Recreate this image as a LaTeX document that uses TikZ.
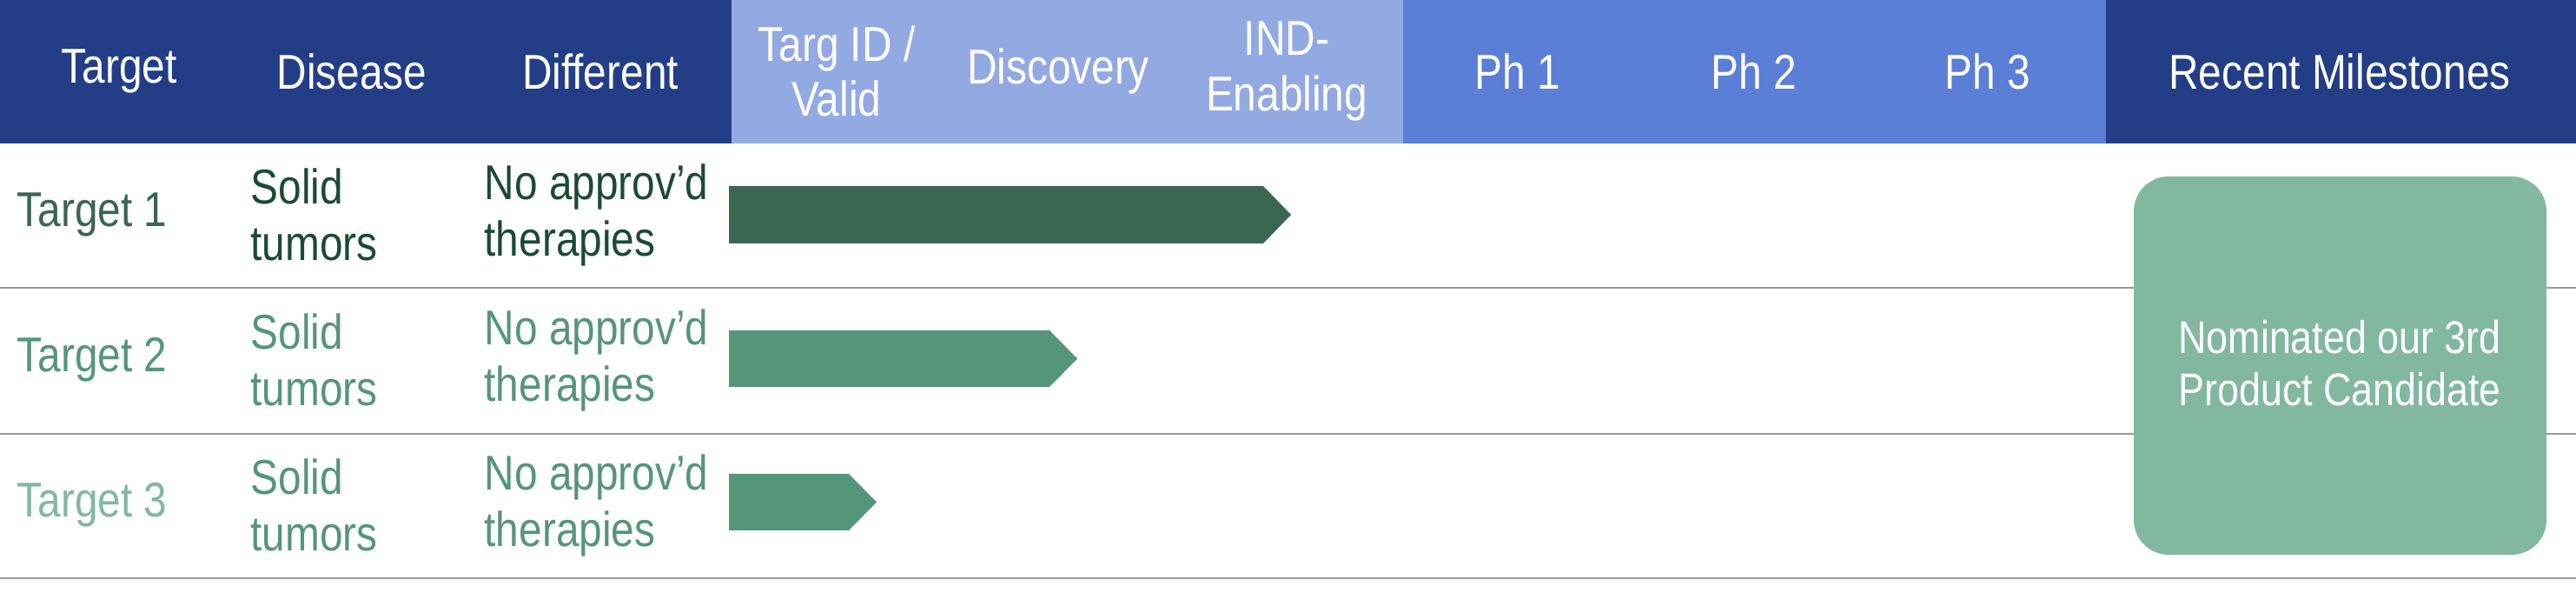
\documentclass[tikz,border=0pt]{standalone}
\usepackage{fontspec}
\setmainfont{Liberation Sans}[FakeStretch=0.85]

\definecolor{hdrdark}{HTML}{233E87}
\definecolor{hdrlight}{HTML}{93A9E2}
\definecolor{hdrmid}{HTML}{5B7ED6}
\definecolor{bardark}{HTML}{3B6652}
\definecolor{barmid}{HTML}{55957A}
\definecolor{barlight}{HTML}{82B7A0}
\definecolor{txtdark}{HTML}{1B4A34}
\definecolor{rowrule}{HTML}{9A9A9A}

\tikzset{
  hdr/.style={text=white, align=center, inner sep=0pt, font=\fontsize{16}{18}\selectfont},
  cell/.style={anchor=west, align=left, inner sep=0pt, font=\fontsize{16}{18.5}\selectfont},
  rowline/.style={draw=rowrule, line width=0.6pt},
}

\begin{document}
\begin{tikzpicture}
\useasboundingbox (0,0) rectangle (29.65,6.82);

\fill[hdrdark] (0,5.17) rectangle (8.42,6.82);
\fill[hdrlight] (8.42,5.17) rectangle (16.15,6.82);
\fill[hdrmid] (16.15,5.17) rectangle (24.24,6.82);
\fill[hdrdark] (24.24,5.17) rectangle (29.65,6.82);

\node[hdr] (hTarget) at (1.37,6.0) {Target};
\node[hdr] (hDisease) at (4.05,6.0) {Disease};
\node[hdr] (hDiff) at (6.91,6.0) {Different};
\node[hdr] (hTargID) at (9.63,6.0) {Targ ID /\\ Valid};
\node[hdr] (hDisc) at (12.18,6.0) {Discovery};
\node[hdr] (hIND) at (14.81,6.0) {IND-\\ Enabling};
\node[hdr] (hPh1) at (17.47,6.0) {Ph 1};
\node[hdr] (hPh2) at (20.19,6.0) {Ph 2};
\node[hdr] (hPh3) at (22.88,6.0) {Ph 3};
\node[hdr] (hMile) at (26.93,6.0) {Recent Milestones};

\draw[rowline] (0,3.51) -- (29.65,3.51);
\draw[rowline] (0,1.83) -- (29.65,1.83);
\draw[rowline] (0,0.17) -- (29.65,0.17);

\node[cell,text=bardark] (t1) at (0.19,4.35) {Target 1};
\node[cell,text=txtdark] (d1) at (2.88,4.35) {Solid\\ tumors};
\node[cell,text=txtdark] (n1) at (5.57,4.35) {No approv’d\\ therapies};
\fill[bardark] (8.39,4.02) -- (8.39,4.68) -- (14.54,4.68) -- (14.86,4.35) -- (14.54,4.02) -- cycle;

\node[cell,text=barmid] (t2) at (0.19,2.68) {Target 2};
\node[cell,text=barmid] (d2) at (2.88,2.68) {Solid\\ tumors};
\node[cell,text=barmid] (n2) at (5.57,2.68) {No approv’d\\ therapies};
\fill[barmid] (8.39,2.37) -- (8.39,3.02) -- (12.08,3.02) -- (12.40,2.695) -- (12.08,2.37) -- cycle;

\node[cell,text=barlight] (t3) at (0.19,1.01) {Target 3};
\node[cell,text=barmid] (d3) at (2.88,1.01) {Solid\\ tumors};
\node[cell,text=barmid] (n3) at (5.57,1.01) {No approv’d\\ therapies};
\fill[barmid] (8.39,0.72) -- (8.39,1.37) -- (9.77,1.37) -- (10.09,1.045) -- (9.77,0.72) -- cycle;

\fill[barlight, rounded corners=0.4cm] (24.56,0.44) rectangle (29.31,4.79);
\node[hdr, font=\fontsize{15}{17}\selectfont] (mile) at (26.93,2.64) {Nominated our 3rd\\ Product Candidate};

\end{tikzpicture}
\end{document}
